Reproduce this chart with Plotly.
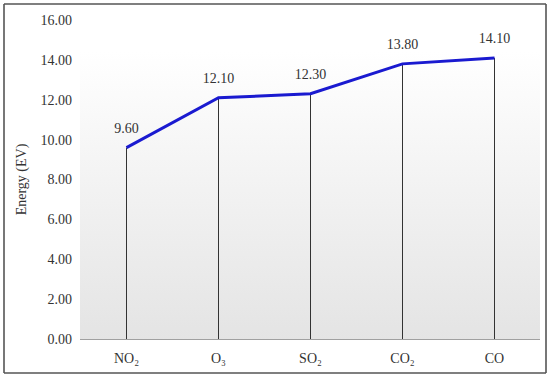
import plotly.graph_objects as go

categories = ["NO₂", "O₃", "SO₂", "CO₂", "CO"]
energy = [9.60, 12.10, 12.30, 13.80, 14.10]
y_ticks = [0, 2, 4, 6, 8, 10, 12, 14, 16]

FONT = "Liberation Serif"
L, R, T, B = 80, 10, 20, 39
W, H = 550, 378
pw, ph = W - L - R, H - T - B
half_px = 0.5 * 5 / pw  # shift categories onto pixel centres for crisp 1px lines


def px_x(p):
    return (p - L) / pw


def px_y(p):
    return (H - B - p) / ph


fig = go.Figure()

# gradient background for plot area
fig.add_trace(go.Scatter(
    x=[-0.6, 4.6, 4.6, -0.6, -0.6], y=[0, 0, 16, 16, 0],
    fill="toself", mode="none", hoverinfo="skip", showlegend=False,
    fillgradient=dict(type="vertical",
                      colorscale=[[0, "#e4e4e4"], [0.9, "#ffffff"], [1, "#ffffff"]]),
))

# drop lines
dx, dy = [], []
for i, v in enumerate(energy):
    dx += [i, i, None]
    dy += [0, v, None]
fig.add_trace(go.Scatter(x=dx, y=dy, mode="lines",
                         line=dict(color="#333333", width=1),
                         hoverinfo="skip", showlegend=False))

fig.add_trace(go.Scatter(
    x=list(range(len(categories))), y=energy, mode="lines+markers+text",
    line=dict(color="#1a1ad0", width=3),
    marker=dict(size=16, color="rgba(0,0,0,0)"),
    text=[f"{v:.2f}" for v in energy], textposition="top center",
    textfont=dict(family=FONT, size=14, color="#333"),
    showlegend=False,
))

border = dict(color="#555", width=1.6)
x0, x1, y0, y1 = px_x(4), px_x(546), px_y(373), px_y(4)
shapes = [
    dict(type="line", xref="paper", yref="paper", x0=x0, x1=x1, y0=y1, y1=y1, line=border),
    dict(type="line", xref="paper", yref="paper", x0=x0, x1=x1, y0=y0, y1=y0, line=border),
    dict(type="line", xref="paper", yref="paper", x0=x0, x1=x0, y0=y0, y1=y1, line=border),
    dict(type="line", xref="paper", yref="paper", x0=x1, x1=x1, y0=y0, y1=y1, line=border),
]

fig.update_layout(
    width=W, height=H,
    margin=dict(l=L, r=R, t=T, b=B),
    paper_bgcolor="white", plot_bgcolor="white",
    font=dict(family=FONT, size=14, color="#333"),
    xaxis=dict(range=[-0.5 - half_px, 4.5 - half_px], tickmode="array",
               tickvals=list(range(len(categories))), ticktext=categories,
               showgrid=False, zeroline=False, showline=True,
               linecolor="#a0a0a0", linewidth=1, ticks="", ticklabelstandoff=6),
    yaxis=dict(range=[0, 16], tickmode="array", tickvals=y_ticks,
               ticktext=[f"{v:.2f}" for v in y_ticks],
               showgrid=False, zeroline=False, showline=False, ticks="",
               ticklabelstandoff=7,
               title=dict(text="Energy (EV)", font=dict(size=14), standoff=10)),
    shapes=shapes,
)

post = (
    "document.body.style.margin='0';document.body.style.padding='0';"
    "var d=document.getElementById('{plot_id}');"
    "d.style.outline='1.5px solid #555';d.style.outlineOffset='-5px';"
)
fig.write_html("out.html", config={"displayModeBar": False}, post_script=post)
